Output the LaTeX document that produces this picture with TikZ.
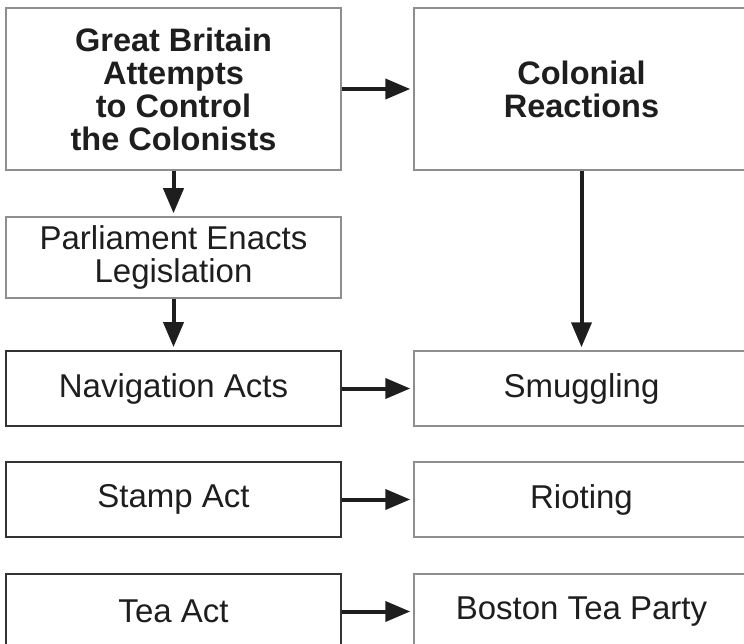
\documentclass[tikz,border=0pt]{standalone}
\usepackage{fontspec}
\setmainfont{Liberation Sans}
\usetikzlibrary{arrows.meta}

\definecolor{inkdark}{HTML}{1E1E1E}
\definecolor{edgegray}{HTML}{8E8E8E}
\definecolor{edgedark}{HTML}{333333}

\tikzset{
  box/.style={draw=edgegray, line width=1.5pt, rectangle, minimum width=335pt,
    align=center, inner sep=0pt, text=inkdark, font=\fontsize{33}{33}\selectfont},
  headbox/.style={box, minimum height=162pt, font=\bfseries\fontsize{32.5}{33}\selectfont},
  actbox/.style={box, draw=edgedark, line width=1.8pt, minimum height=75pt},
  reactbox/.style={box, minimum height=75pt},
  arr/.style={-{Triangle[length=25pt,width=20pt]}, line width=4pt, draw=inkdark, shorten >=3pt}
}

\begin{document}
\begin{tikzpicture}[x=1pt,y=-1pt]
  \useasboundingbox (0,0) rectangle (744,644);
  \clip (0,0) rectangle (744,644);

  % top row
  \node[headbox] (gb) at (173.5,89) {Great Britain\\Attempts\\to Control\\the Colonists};
  \node[headbox] (col) at (581.5,89) {Colonial\\Reactions};

  \node[box, minimum height=81pt] (parl) at (173.5,257.5) {Parliament Enacts\\Legislation};

  % acts and reactions
  \node[actbox] (nav) at (173.5,388.5) {Navigation Acts};
  \node[actbox] (stamp) at (173.5,499.5) {Stamp Act};
  \node[actbox] (tea) at (173.5,611.5) {Tea Act};

  \node[reactbox] (smug) at (581.5,388.5) {Smuggling};
  \node[reactbox] (riot) at (581.5,499.5) {Rioting};
  \node[reactbox] (party) at (581.5,611.5) {Boston Tea Party};

  \draw[arr] (gb) -- (col);
  \draw[arr] (gb) -- (parl);
  \draw[arr] (parl) -- (nav);
  \draw[arr] (col) -- (smug);

  \draw[arr] (nav) -- (smug);
  \draw[arr] (stamp) -- (riot);
  \draw[arr] (tea) -- (party);
\end{tikzpicture}
\end{document}
